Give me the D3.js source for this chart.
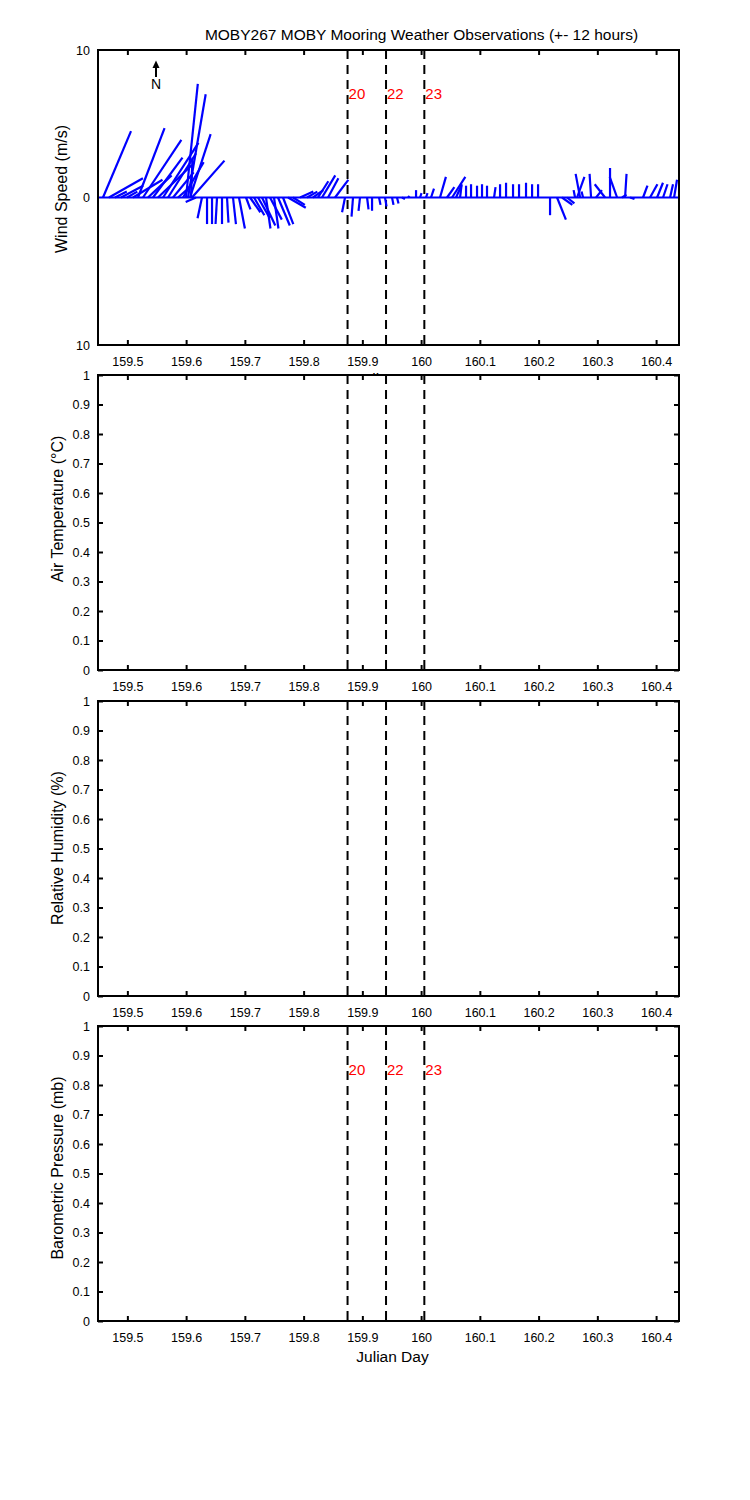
<!DOCTYPE html>
<html><head><meta charset="utf-8">
<script src="https://cdn.jsdelivr.net/npm/d3@7"></script>
<style>
body{margin:0;background:#fff;}
text{font-family:"Liberation Sans",Arial,Helvetica,sans-serif;}
</style></head>
<body>
<svg id="chart" width="750" height="1500"></svg>
<script>
// ---- data ----
const titleText = "MOBY267 MOBY Mooring Weather Observations (+- 12 hours)";
const panelLabels = ["Wind Speed (m/s)", "Air Temperature (\u00B0C)", "Relative Humidity (%)", "Barometric Pressure (mb)"];
const xTicks = [159.5, 159.6, 159.7, 159.8, 159.9, 160, 160.1, 160.2, 160.3, 160.4];
const windTicks = [-10, 0, 10];
const unitTicks = [0, 0.1, 0.2, 0.3, 0.4, 0.5, 0.6, 0.7, 0.8, 0.9, 1];
const markerDays = [159.8748, 159.9403, 160.0055];
const markerLabels = ["20", "22", "23"];
const windDay = [159.4585,159.4687,159.4789,159.4892,159.4994,159.5096,159.5181,159.5266,159.5351,159.5436,
159.5521,159.5607,159.5692,159.5777,159.5862,159.5947,159.5998,159.6032,159.6066,159.6083,159.6100,159.6168,
159.6270,159.6356,159.6441,159.6526,159.6611,159.6696,159.6798,159.6900,159.7020,159.7088,159.7156,159.7224,
159.7292,159.7360,159.7428,159.7496,159.7564,159.7649,159.7735,159.7820,
159.7939,159.8058,159.8160,159.8245,159.8313,159.8416,159.8535,
159.8705,159.8841,159.8960,159.9080,159.9165,159.9284,159.9386,159.9505,159.9590,159.9675,
159.9778,159.9914,159.9982,160.0084,160.0169,160.0322,160.0441,160.0527,160.0595,160.0663,160.0765,
160.0850,160.0952,160.1037,160.1122,160.1242,160.1344,160.1446,160.1565,160.1667,160.1786,160.1889,160.1991,
160.2195,160.2314,160.2399,160.2484,
160.2621,160.2655,160.2706,160.2757,160.2893,160.2978,160.3131,160.3216,160.3336,160.3421,160.3472,160.3557,
160.3778,160.3897,160.4017,160.4119,160.4238,160.4306];
const windU = [1.9,2.3,0.8,1.5,0.7,2.0,1.8,2.6,1.6,2.0,
2.3,2.4,1.9,1.4,0.9,1.4,0.8,1.2,1.4,0.1,2.2,-0.7,
-0.3,0.0,0.0,-0.1,0.0,0.1,0.2,0.4,0.3,0.7,0.7,0.8,
0.9,0.3,0.8,0.3,0.8,0.7,1.2,0.8,
0.9,0.7,0.7,0.7,0.9,0.7,0.9,
-0.2,-0.1,-0.1,0.1,0.0,0.1,0.1,0.1,0.1,0.2,
0.1,0.0,0.1,0.1,0.2,0.4,0.5,0.9,0.4,0.1,0.0,
0.0,0.0,0.0,0.0,0.1,0.0,0.0,0.0,0.0,0.0,0.0,0.0,
0.0,0.6,0.7,0.5,
-0.1,0.5,-0.3,-0.1,-0.1,0.4,-0.7,0.0,-0.5,0.3,0.1,0.3,
0.3,0.5,0.4,0.3,0.2,0.2];
const windV = [4.5,1.3,0.4,0.8,0.4,1.2,4.7,3.9,1.5,2.7,
2.2,3.7,3.0,1.7,0.8,2.4,7.7,7.0,4.3,2.7,2.5,-0.3,
-1.4,-1.8,-1.8,-1.8,-1.8,-1.7,-1.8,-2.1,-0.8,-1.0,-1.2,-1.4,
-1.9,-2.1,-1.5,-2.1,-1.9,-1.8,-0.7,-0.5,
0.4,0.4,0.5,1.1,1.5,1.3,1.2,
-1.0,-1.3,-0.9,-0.8,-0.9,-0.5,-0.6,-0.5,-0.4,-0.1,
0.1,0.5,0.3,0.3,0.6,1.4,0.7,1.4,0.9,0.8,0.8,
0.9,0.8,0.9,0.8,0.7,0.9,1.0,0.9,0.9,1.0,0.9,0.9,
-1.2,-1.5,-0.5,-0.4,
0.5,1.4,1.6,0.4,1.6,0.5,0.9,2.0,1.4,0.2,1.6,-0.1,
0.8,0.9,1.0,0.9,0.9,1.2];

// ---- layout ----
const left = 98, right = 679;
const panelTops = [50, 375, 701, 1026];
const panelH = 295;
const labelCenters = [189, 509, 848, 1168];
const labelX = [67, 63, 63, 63];
const svg = d3.select("#chart");
const x = d3.scaleLinear().domain([159.45, 160.439]).range([left, right]);
const fontTick = "12.5px";

// hidden Julian Day label of first panel (covered by panel 2)
svg.append("text").attr("x", 392).attr("y", 384).attr("text-anchor", "middle")
  .style("font-size", "15.5px").text("Julian Day");

panelTops.forEach((top, pi) => {
  const bottom = top + panelH;
  const g = svg.append("g");
  g.append("rect").attr("x", left).attr("y", top).attr("width", right - left).attr("height", panelH)
    .attr("fill", "#fff");
  const y = pi === 0
    ? d3.scaleLinear().domain([-10, 10]).range([bottom, top])
    : d3.scaleLinear().domain([0, 1]).range([bottom, top]);
  const yTickVals = pi === 0 ? windTicks : unitTicks;
  const yFmt = pi === 0 ? (d => String(Math.abs(d))) : (d => String(+d.toFixed(1)));

  const ax = g.append("g").attr("transform", `translate(0,${bottom})`)
    .call(d3.axisBottom(x).tickValues(xTicks).tickFormat(d => String(+d.toFixed(1))).tickSizeInner(-5).tickSizeOuter(0).tickPadding(12));
  const axT = g.append("g").attr("transform", `translate(0,${top})`)
    .call(d3.axisTop(x).tickValues(xTicks).tickFormat("").tickSizeInner(-5).tickSizeOuter(0));
  const ayL = g.append("g").attr("transform", `translate(${left},0)`)
    .call(d3.axisLeft(y).tickValues(yTickVals).tickFormat(yFmt).tickSizeInner(pi === 0 ? 0 : -5).tickSizeOuter(0).tickPadding(8));
  const ayR = g.append("g").attr("transform", `translate(${right},0)`)
    .call(d3.axisRight(y).tickValues(yTickVals).tickFormat("").tickSizeInner(pi === 0 ? 0 : -5).tickSizeOuter(0));
  [ax, axT, ayL, ayR].forEach(a => {
    a.select(".domain").remove();
    a.selectAll("line").attr("stroke", "#000").attr("stroke-width", 2);
    a.selectAll("text").attr("fill", "#000").style("font-size", fontTick).style("font-family", '"Liberation Sans",Arial,sans-serif');
  });

  markerDays.forEach(d => {
    g.append("line").attr("x1", x(d)).attr("x2", x(d)).attr("y1", top).attr("y2", bottom)
      .attr("stroke", "#000").attr("stroke-width", 2).attr("stroke-dasharray", "9,6");
  });
  if (pi === 0 || pi === 3) {
    markerDays.forEach((d, i) => {
      g.append("text").attr("x", x(d) + 1).attr("y", top + 49).attr("fill", "#ff0000")
        .style("font-size", "15px").text(markerLabels[i]);
    });
  }

  if (pi === 0) {
    const k = y(0) - y(1);
    g.append("g").selectAll("line").data(windDay).join("line")
      .attr("x1", d => x(d)).attr("y1", y(0))
      .attr("x2", (d, i) => x(d) + windU[i] * k).attr("y2", (d, i) => y(windV[i]))
      .attr("stroke", "#0000ff").attr("stroke-width", 2.2);
    g.append("line").attr("x1", left).attr("x2", right).attr("y1", y(0)).attr("y2", y(0))
      .attr("stroke", "#0000ff").attr("stroke-width", 2.2);
    // north arrow
    g.append("line").attr("x1", 156).attr("x2", 156).attr("y1", 77).attr("y2", 66)
      .attr("stroke", "#000").attr("stroke-width", 2);
    g.append("path").attr("d", "M152.5,68 L156,60.5 L159.5,68 Z").attr("fill", "#000");
    g.append("text").attr("x", 156).attr("y", 88.5).attr("text-anchor", "middle").style("font-size", "14px").text("N");
  }

  g.append("rect").attr("x", left).attr("y", top).attr("width", right - left).attr("height", panelH)
    .attr("fill", "none").attr("stroke", "#000").attr("stroke-width", 2);

  g.append("text").attr("transform", `translate(${labelX[pi]},${labelCenters[pi]}) rotate(-90)`)
    .attr("text-anchor", "middle").style("font-size", "16px").text(panelLabels[pi]);
});

svg.append("text").attr("x", 421.5).attr("y", 39.5).attr("text-anchor", "middle").style("font-size", "15.5px").text(titleText);
svg.append("text").attr("x", 392.5).attr("y", 1362).attr("text-anchor", "middle").style("font-size", "15.5px").text("Julian Day");
</script>
</body></html>
